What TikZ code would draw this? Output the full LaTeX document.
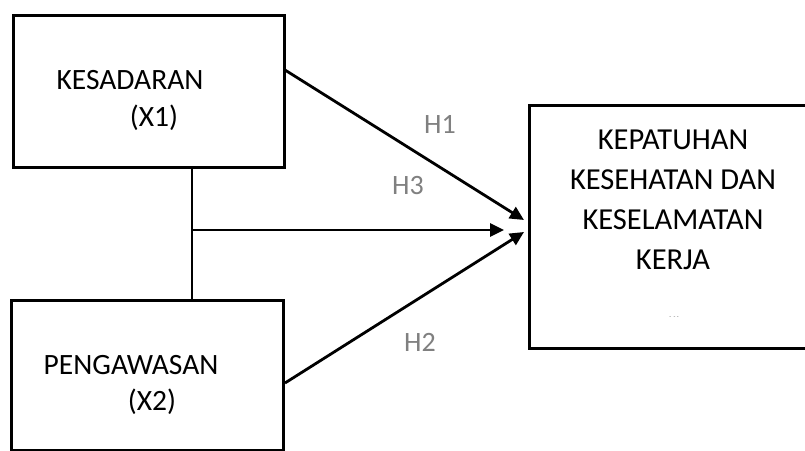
\documentclass[tikz,border=0pt]{standalone}
\usepackage{fontspec}
\setmainfont{Carlito}
\usetikzlibrary{arrows.meta}
\begin{document}
\begin{tikzpicture}[x=1pt,y=-1pt,
  box/.style={draw=black,line width=3pt,rectangle,inner sep=0pt},
  lbl/.style={font=\fontsize{29.5}{32}\selectfont,text=black,inner sep=0pt},
  hyp/.style={font=\fontsize{28}{32}\selectfont,text=black!50,inner sep=0pt},
  arr/.style={line width=2.8pt,-{Triangle[length=14pt,width=13pt]}},
  conn/.style={line width=2.8pt}]
\clip (0,0) rectangle (805,450);
\fill[white] (0,0) rectangle (805,450);
\node[box,minimum width=271pt,minimum height=152pt] (x1) at (148.5,91) {};
\node[box,minimum width=272pt,minimum height=150pt] (x2) at (147,375) {};
\node[box,minimum width=281pt,minimum height=243pt] (y) at (669.5,226.5) {};
\node[lbl] (t1a) at (130,80) {KESADARAN};
\node[lbl] (t1b) at (154,118) {(X1)};
\node[lbl] (t2a) at (131,365) {PENGAWASAN};
\node[lbl] (t2b) at (152,402) {(X2)};
\node[lbl,align=center,font=\fontsize{30.5}{40}\selectfont] (ty) at (673,200) {KEPATUHAN\\KESEHATAN DAN\\KESELAMATAN\\KERJA};
\node[inner sep=0pt,text=black!60,font=\fontsize{6}{6}\selectfont] (dots) at (674,318) {-\, - -};
\coordinate (top) at (192,168);
\coordinate (bot) at (192,299);
\coordinate (j) at (192,230);
\coordinate (h1s) at (285,70);
\coordinate (h1e) at (524,220);
\coordinate (h2s) at (285,383);
\coordinate (h2e) at (524,232);
\coordinate (h3e) at (504,230);
\draw[conn] (top) -- (bot);
\draw[arr] (h1s) -- (h1e);
\draw[arr] (h2s) -- (h2e);
\draw[arr] (j) -- (h3e);
\node[hyp] (H1) at (440,124) {H1};
\node[hyp] (H3) at (408,186) {H3};
\node[hyp] (H2) at (420,342) {H2};
\end{tikzpicture}
\end{document}
